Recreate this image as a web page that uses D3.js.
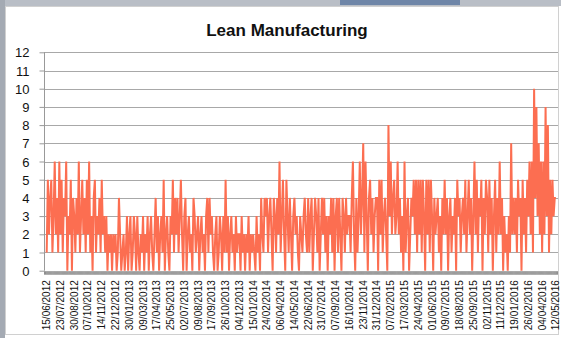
<!DOCTYPE html>
<html>
<head>
<meta charset="utf-8">
<script src="https://cdn.jsdelivr.net/npm/d3@7"></script>
<style>
  body { margin: 0; background: #fff; }
  svg { display: block; font-family: "Liberation Sans", Arial, sans-serif; }
</style>
</head>
<body>
<script>
// tick labels, one every 12 points
const tickLabels = [
  "15/06/2012","23/07/2012","30/08/2012","07/10/2012","14/11/2012","22/12/2012",
  "30/01/2013","09/03/2013","17/04/2013","25/05/2013","02/07/2013","09/08/2013",
  "17/09/2013","26/10/2013","04/12/2013","15/01/2014","24/02/2014","06/04/2014",
  "14/05/2014","22/06/2014","31/07/2014","07/09/2014","16/10/2014","23/11/2014",
  "31/12/2014","07/02/2015","17/03/2015","24/04/2015","01/06/2015","09/07/2015",
  "18/08/2015","25/09/2015","02/11/2015","11/12/2015","19/01/2016","26/02/2016",
  "04/04/2016","12/05/2016"
];
const perTick = 12;
const yTicks = [0,1,2,3,4,5,6,7,8,9,10,11,12];

// counts (one row per label interval)
const counts = [
  1,5,2,4,5,1,3,6,2,4,1,6,
  2,5,1,4,3,6,0,3,2,5,0,4,
  3,1,4,2,6,1,3,5,2,4,1,5,
  2,6,1,3,0,4,5,1,3,2,4,1,
  5,2,3,1,3,0,2,1,2,0,2,1,
  2,0,1,4,2,0,1,2,0,1,3,0,
  2,3,0,1,3,2,0,3,1,0,2,1,
  3,0,2,1,3,0,2,3,1,0,2,4,
  1,3,0,2,3,1,5,0,2,3,1,0,
  3,2,5,1,4,2,4,1,3,5,2,0,
  3,4,0,2,3,1,2,0,4,3,1,2,
  3,0,2,3,1,2,0,3,4,1,4,2,
  3,1,0,2,3,0,1,3,2,0,3,1,
  5,1,3,0,2,3,1,2,0,3,1,2,
  2,0,3,1,2,0,2,1,3,0,2,1,
  2,1,0,3,1,2,0,4,2,1,4,3,
  4,1,3,4,2,0,4,3,1,4,2,6,
  1,3,5,2,0,5,3,1,4,2,0,3,
  4,2,3,1,0,3,2,1,3,4,2,1,
  4,1,3,4,0,2,4,3,1,4,0,2,
  4,2,4,1,3,0,3,2,4,1,4,0,
  3,4,1,4,2,0,4,3,1,4,2,3,
  3,1,4,6,2,0,4,1,3,6,2,4,
  7,1,6,3,0,4,5,2,4,1,3,4,
  4,0,5,2,5,1,3,4,2,0,8,3,
  6,2,4,5,2,3,6,2,4,1,3,0,
  6,1,3,4,0,2,4,3,5,2,5,1,
  5,2,5,1,5,3,0,5,2,5,1,5,
  3,0,4,2,3,4,1,3,0,4,2,5,
  2,4,0,3,4,1,3,2,4,0,5,3,
  4,1,3,4,2,5,1,3,5,2,4,0,
  3,6,2,5,1,4,3,5,0,4,2,5,
  4,1,5,2,4,0,3,5,1,4,2,6,
  2,4,0,3,1,2,0,3,1,7,2,4,
  2,4,1,5,3,4,0,5,2,4,1,5,
  3,6,2,6,1,10,4,9,3,7,2,6,
  1,6,2,9,3,8,1,5,2,5,3,4,
  4
];

const W = 561, H = 338;
const svg = d3.select("body").append("svg")
  .attr("width", W).attr("height", H);

// window chrome
svg.append("rect").attr("x", 0).attr("y", 0).attr("width", W).attr("height", 6).attr("fill", "#b9bec6");
svg.append("rect").attr("x", 340).attr("y", 0).attr("width", 120).attr("height", 5).attr("fill", "#6f86a8");
svg.append("rect").attr("x", 0).attr("y", 0).attr("width", 5).attr("height", H).attr("fill", "#a4aab3");
svg.append("rect").attr("x", 5.5).attr("y", 6.5).attr("width", W - 8).attr("height", H - 10)
  .attr("fill", "#fff").attr("stroke", "#d0d0d0");

// title
svg.append("text")
  .attr("x", 287).attr("y", 36)
  .attr("text-anchor", "middle")
  .style("font-weight", "bold").style("font-size", "17px")
  .attr("fill", "#111")
  .text("Lean Manufacturing");

// scales
const x = d3.scaleLinear().domain([0, counts.length - 1]).range([46.7, 555.9]);
const y = d3.scaleLinear().domain([0, 12]).range([270.7, 52.3]);

// gridlines
svg.append("g").selectAll("line").data(yTicks.slice(1)).join("line")
  .attr("x1", 44).attr("x2", 558)
  .attr("y1", d => Math.round(y(d)) + 0.5).attr("y2", d => Math.round(y(d)) + 0.5)
  .attr("stroke", "#a8a8a8").attr("stroke-width", 1);

// y axis
const yAxis = svg.append("g")
  .attr("transform", "translate(44.5,0)")
  .call(d3.axisLeft(y).tickValues(yTicks).tickSize(5).tickPadding(10).tickFormat(d3.format("d")));
yAxis.select(".domain").attr("stroke", "#999").attr("d", "M0," + y(12) + "V" + y(0));
yAxis.selectAll(".tick line").attr("stroke", "#999");
yAxis.selectAll(".tick text").style("font-size", "13px").attr("fill", "#111").attr("x", -15).attr("dy", "0.35em");

// line
const line = d3.line()
  .x((d, i) => x(i))
  .y(d => y(d));

svg.append("path")
  .datum(counts)
  .attr("fill", "none")
  .attr("stroke", "#fc6e51")
  .attr("stroke-width", 2)
  .attr("stroke-linejoin", "miter")
  .attr("d", line);

// x axis: dense tick band + rotated date labels
const xg = svg.append("g").attr("transform", "translate(0," + (y(0) + 0.5) + ")");
xg.append("rect").attr("x", 44).attr("y", 0).attr("width", 514).attr("height", 3.5).attr("fill", "#8e8e8e");
xg.selectAll("line.tk").data(d3.range(counts.length)).join("line")
  .attr("class", "tk")
  .attr("x1", i => x(i)).attr("x2", i => x(i))
  .attr("y1", 0).attr("y2", 3.5)
  .attr("stroke", "#b4b4b4").attr("stroke-width", 0.5);

xg.selectAll("text").data(tickLabels).join("text")
  .attr("transform", (d, i) => "translate(" + (x(i * perTick) + 3.5) + ",9) rotate(-90)")
  .attr("text-anchor", "end")
  .style("font-size", "10px")
  .attr("fill", "#111")
  .text(d => d);
</script>
</body>
</html>
